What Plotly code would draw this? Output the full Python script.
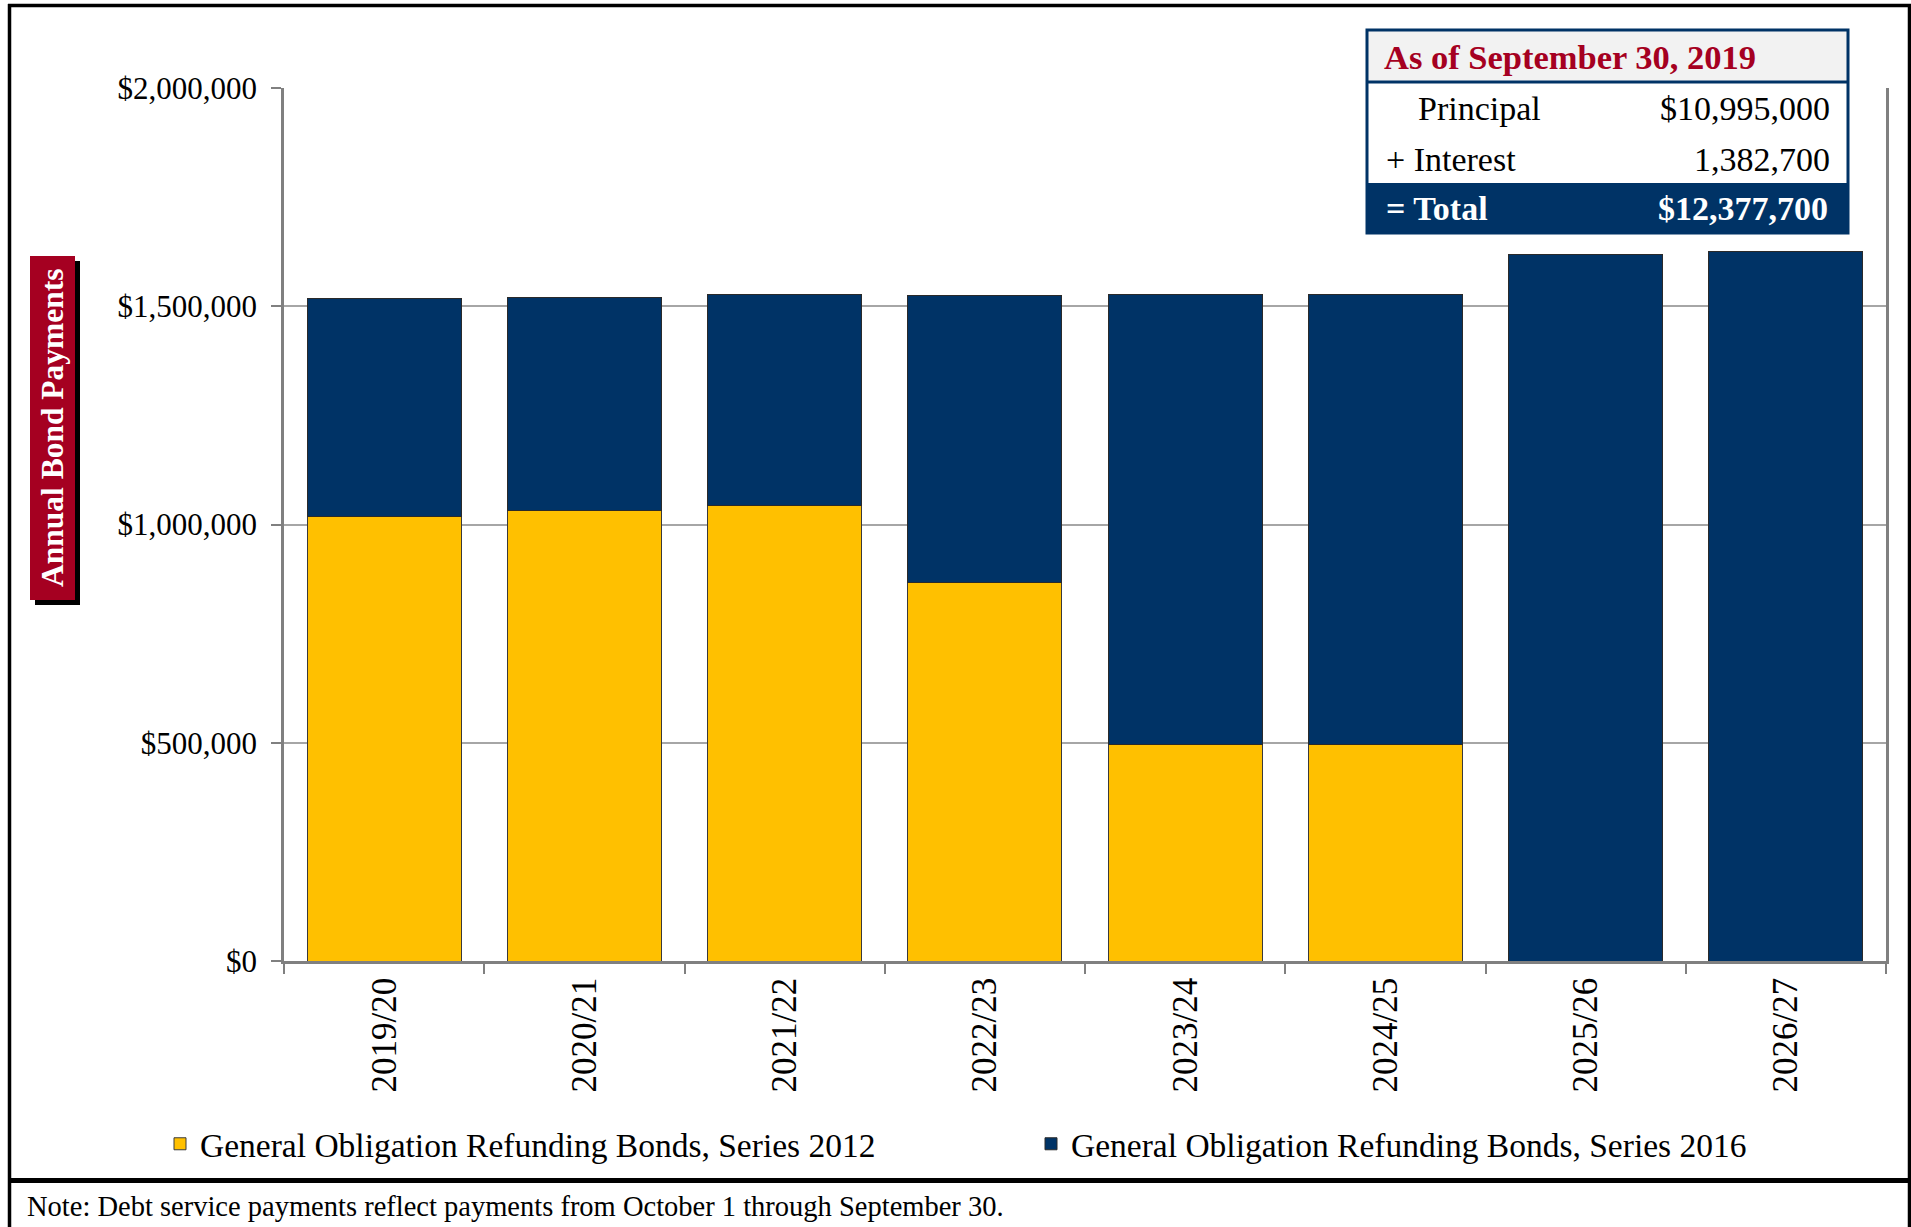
import plotly.graph_objects as go

# ---- data ----
years = ["2019/20", "2020/21", "2021/22", "2022/23", "2023/24", "2024/25", "2025/26", "2026/27"]
series_2012 = [1018400, 1032100, 1042700, 866000, 495000, 497000, 0, 0]
series_2016 = [499200, 487900, 484100, 657600, 1033000, 1028900, 1617500, 1625200]
name_2012 = "General Obligation Refunding Bonds, Series 2012"
name_2016 = "General Obligation Refunding Bonds, Series 2016"
y_ticks = [0, 500000, 1000000, 1500000, 2000000]
y_tick_labels = ["$0", "$500,000", "$1,000,000", "$1,500,000", "$2,000,000"]
table_title = "As of September 30, 2019"
table_rows = [("Principal", "$10,995,000"), ("+ Interest", "1,382,700")]
table_total = ("= Total", "$12,377,700")
y_title = "Annual Bond Payments"
note = "Note: Debt service payments reflect payments from October 1 through September 30."

W, H = 1911, 1227
L, R, T, B = 284, 1886, 88, 961
FONT = "Liberation Serif"
NAVY = "#003366"
GOLD = "#FFC000"
RED = "#A50021"


def px(x):
    return (x - L) / (R - L)


def py(y):
    return (B - y) / (B - T)


fig = go.Figure()
fig.add_trace(go.Bar(x=years, y=series_2012, name=name_2012, marker=dict(color=GOLD, line=dict(color="#3a3a3a", width=1)), legend="legend"))
fig.add_trace(go.Bar(x=years, y=series_2016, name=name_2016, marker=dict(color=NAVY, line=dict(color="#2a2a2a", width=1)), legend="legend2"))

shapes = []
annotations = []

# outer frame
shapes.append(dict(type="line", xref="paper", yref="paper", x0=px(9.5), x1=px(9.5), y0=py(4), y1=py(1240), line=dict(color="black", width=3.5), layer="above"))
shapes.append(dict(type="line", xref="paper", yref="paper", x0=px(8), x1=px(1911), y0=py(5.5), y1=py(5.5), line=dict(color="black", width=3.5), layer="above"))
shapes.append(dict(type="line", xref="paper", yref="paper", x0=px(1909.5), x1=px(1909.5), y0=py(4), y1=py(1240), line=dict(color="black", width=3.5), layer="above"))
shapes.append(dict(type="line", xref="paper", yref="paper", x0=px(8), x1=px(1911), y0=py(1180.5), y1=py(1180.5), line=dict(color="black", width=5), layer="above"))

# y title box with shadow
shapes.append(dict(type="rect", xref="paper", yref="paper", x0=px(35), x1=px(80), y0=py(605), y1=py(261), fillcolor="black", line=dict(width=0), layer="above"))
shapes.append(dict(type="rect", xref="paper", yref="paper", x0=px(30), x1=px(75), y0=py(600), y1=py(256), fillcolor=RED, line=dict(width=0), layer="above"))
annotations.append(dict(xref="paper", yref="paper", x=px(53), y=py(428), xanchor="center", yanchor="middle", text="<b>" + y_title + "</b>", textangle=-90, showarrow=False, font=dict(family=FONT, size=31.5, color="white")))

# info table
tx0, tx1 = 1367, 1848
shapes.append(dict(type="rect", xref="paper", yref="paper", x0=px(tx0), x1=px(tx1), y0=py(82), y1=py(30), fillcolor="#F2F2F2", line=dict(width=0), layer="above"))
shapes.append(dict(type="rect", xref="paper", yref="paper", x0=px(tx0), x1=px(tx1), y0=py(183), y1=py(82), fillcolor="white", line=dict(width=0), layer="above"))
shapes.append(dict(type="rect", xref="paper", yref="paper", x0=px(tx0), x1=px(tx1), y0=py(233), y1=py(183), fillcolor=NAVY, line=dict(width=0), layer="above"))
shapes.append(dict(type="rect", xref="paper", yref="paper", x0=px(tx0), x1=px(tx1), y0=py(233), y1=py(30), line=dict(color=NAVY, width=3), layer="above"))
shapes.append(dict(type="line", xref="paper", yref="paper", x0=px(tx0), x1=px(tx1), y0=py(82), y1=py(82), line=dict(color=NAVY, width=3), layer="above"))
annotations.append(dict(xref="paper", yref="paper", x=px(1382), y=py(57), xanchor="left", yanchor="middle", text="<b>" + table_title + "</b>", showarrow=False, font=dict(family=FONT, size=34.5, color=RED)))
row_y = [108, 159]
row_x = [1416, 1384]
for (lab, val), yy, xx in zip(table_rows, row_y, row_x):
    annotations.append(dict(xref="paper", yref="paper", x=px(xx), y=py(yy), xanchor="left", yanchor="middle", text=lab, showarrow=False, font=dict(family=FONT, size=34, color="black")))
    annotations.append(dict(xref="paper", yref="paper", x=px(1832), y=py(yy), xanchor="right", yanchor="middle", text=val, showarrow=False, font=dict(family=FONT, size=34, color="black")))
annotations.append(dict(xref="paper", yref="paper", x=px(1384), y=py(209), xanchor="left", yanchor="middle", text="<b>" + table_total[0] + "</b>", showarrow=False, font=dict(family=FONT, size=34, color="white")))
annotations.append(dict(xref="paper", yref="paper", x=px(1830), y=py(209), xanchor="right", yanchor="middle", text="<b>" + table_total[1] + "</b>", showarrow=False, font=dict(family=FONT, size=34, color="white")))

# note
annotations.append(dict(xref="paper", yref="paper", x=px(25), y=py(1206), xanchor="left", yanchor="middle", text=note, showarrow=False, font=dict(family=FONT, size=28.5, color="black")))

fig.update_layout(
    width=W, height=H,
    margin=dict(l=L, r=W - R, t=T, b=H - B),
    paper_bgcolor="white", plot_bgcolor="white",
    barmode="stack", bargap=0.23,
    font=dict(family=FONT, size=31, color="black"),
    showlegend=True,
    legend=dict(orientation="h", x=px(160), y=py(1144), xanchor="left", yanchor="middle", font=dict(family=FONT, size=33.5), itemwidth=30, bgcolor="rgba(0,0,0,0)"),
    legend2=dict(orientation="h", x=px(1031), y=py(1144), xanchor="left", yanchor="middle", font=dict(family=FONT, size=33.5), itemwidth=30, bgcolor="rgba(0,0,0,0)"),
    shapes=shapes,
    annotations=annotations,
)
fig.update_xaxes(
    type="category", tickangle=-90, showline=True, linecolor="#808080", linewidth=2.5,
    ticks="outside", tickson="boundaries", ticklen=10, tickcolor="#808080", tickwidth=2,
    tickfont=dict(family=FONT, size=35, color="black"), showgrid=False,
)
fig.update_yaxes(
    range=[0, 2000000], tickvals=y_ticks, ticktext=y_tick_labels,
    showline=True, linecolor="#808080", linewidth=2.5, mirror=True,
    ticks="outside", ticklen=10, tickcolor="#808080", tickwidth=2, ticklabelstandoff=8,
    showgrid=True, gridcolor="#A6A6A6", gridwidth=1.5, zeroline=False,
    tickfont=dict(family=FONT, size=31, color="black"),
)

fig.write_html("out.html", config={"displayModeBar": False},
               post_script="document.body.style.margin='0';document.body.style.overflow='hidden';")
